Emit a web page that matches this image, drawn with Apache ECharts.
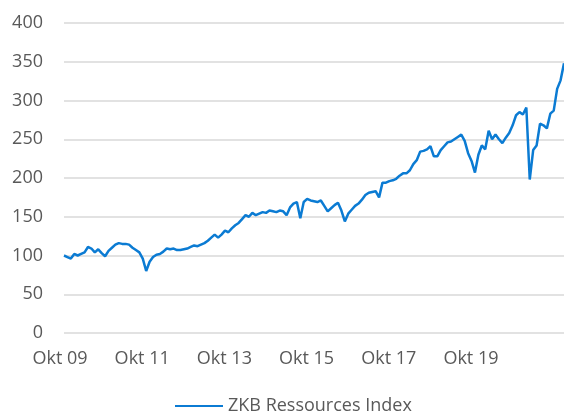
<!DOCTYPE html>
<html>
<head>
<meta charset="utf-8">
<script src="https://cdn.jsdelivr.net/npm/echarts@6/dist/echarts.min.js"></script>
<style>
  html, body { margin: 0; padding: 0; background: #fff; }
  #chart { width: 564px; height: 419px; }
</style>
</head>
<body>
<div id="chart"></div>
<script>
// monthly closing values (Okt 09 .. Okt 21)
var indexValues = [
  100, 98, 96, 102, 100, 102, 104, 111, 109, 104,
  108, 103, 99, 106, 110, 114, 116, 115, 115, 114,
  110, 107, 104, 96, 80, 92, 98, 101, 102, 105,
  109, 108, 109, 107, 107, 108, 109, 111, 113, 112,
  114, 116, 119, 123, 127, 123, 127, 132, 130, 135,
  139, 142, 147, 152, 150, 155, 152, 154, 156, 155,
  158, 157, 156, 158, 157, 152, 162, 167, 169, 148,
  169, 173, 171, 170, 169, 171, 164, 157, 161, 165,
  168, 158, 144, 154, 159, 164, 167, 172, 178, 181,
  182, 183, 175, 194, 194, 196, 197, 199, 203, 206,
  206, 210, 218, 223, 234, 235, 237, 241, 228, 228,
  236, 241, 246, 247, 250, 253, 256, 248, 232, 222,
  207, 230, 242, 237, 261, 250, 256, 250, 245, 252,
  258, 268, 281, 285, 282, 291, 198, 236, 242, 270,
  268, 264, 283, 287, 315, 326, 348
]
var monthNames = ['Jan', 'Feb', 'Mrz', 'Apr', 'Mai', 'Jun', 'Jul', 'Aug', 'Sep', 'Okt', 'Nov', 'Dez']
var seriesName = 'ZKB Ressources Index'

// one category per month, starting Okt 2009
var categories = []
for (var i = 0; i < indexValues.length; i++) {
  var m = (9 + i) % 12
  var y = 2009 + Math.floor((9 + i) / 12)
  categories.push(monthNames[m] + ' ' + String(y).slice(2))
}

var chart = echarts.init(document.getElementById('chart'))
chart.setOption({
  animation: false,
  textStyle: { fontFamily: 'Open Sans' },
  grid: { left: 64, right: 0, top: 23, bottom: 86, containLabel: false },
  legend: {
    data: [seriesName],
    left: 175,
    top: 397,
    padding: 0,
    icon: 'rect',
    itemWidth: 48,
    itemHeight: 2,
    itemGap: 0,
    textStyle: { color: '#595959', fontSize: 18, fontFamily: 'Open Sans' }
  },
  xAxis: {
    type: 'category',
    data: categories,
    boundaryGap: false,
    axisLine: { show: false },
    axisTick: { show: false },
    axisLabel: {
      interval: function (idx) { return idx % 24 === 0 && idx <= 120 },
      color: '#595959',
      fontSize: 18,
      margin: 17,
      padding: [0, 8, 0, 0]
    }
  },
  yAxis: {
    type: 'value',
    min: 0,
    max: 400,
    interval: 50,
    axisLine: { show: false },
    axisTick: { show: false },
    axisLabel: { color: '#595959', fontSize: 18, margin: 21 },
    splitLine: { lineStyle: { color: '#d9d9d9', width: 1.5 } }
  },
  series: [{
    name: seriesName,
    type: 'line',
    data: indexValues,
    showSymbol: false,
    lineStyle: { color: '#0b7bd3', width: 2.5 },
    itemStyle: { color: '#0b7bd3' }
  }]
})
</script>
</body>
</html>
